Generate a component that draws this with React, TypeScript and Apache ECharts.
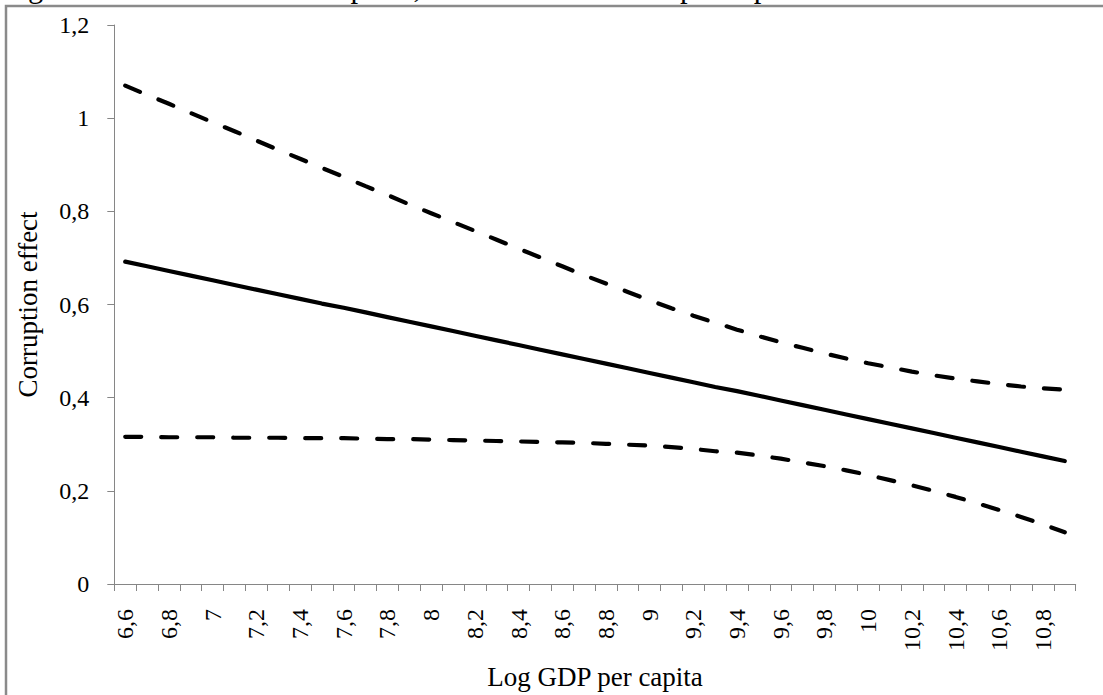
import React, { useEffect, useRef } from "react";
import * as echarts from "echarts";

const gdp = [
  6.6, 6.7, 6.8, 6.9, 7, 7.1, 7.2, 7.3, 7.4, 7.5, 7.6, 7.7, 7.8, 7.9, 8, 8.1, 8.2, 8.3, 8.4, 8.5, 8.6, 8.7,
  8.8, 8.9, 9, 9.1, 9.2, 9.3, 9.4, 9.5, 9.6, 9.7, 9.8, 9.9, 10, 10.1, 10.2, 10.3, 10.4, 10.5, 10.6, 10.7,
  10.8, 10.9,
];

const effect = [
  0.692, 0.682, 0.672, 0.662, 0.652, 0.642, 0.632, 0.622, 0.612, 0.602, 0.593, 0.583, 0.573, 0.563,
  0.553, 0.543, 0.533, 0.523, 0.513, 0.503, 0.493, 0.483, 0.473, 0.463, 0.453, 0.443, 0.433, 0.423,
  0.414, 0.404, 0.394, 0.384, 0.374, 0.364, 0.354, 0.344, 0.334, 0.324, 0.314, 0.304, 0.294, 0.284,
  0.274, 0.264,
];

const upper = [
  1.07, 1.05, 1.031, 1.011, 0.991, 0.972, 0.952, 0.932, 0.913, 0.893, 0.874, 0.854, 0.835, 0.815,
  0.796, 0.777, 0.758, 0.739, 0.72, 0.701, 0.682, 0.663, 0.645, 0.627, 0.609, 0.592, 0.576, 0.561,
  0.546, 0.532, 0.519, 0.507, 0.495, 0.484, 0.474, 0.465, 0.456, 0.448, 0.441, 0.435, 0.429, 0.424,
  0.42, 0.417,
];

const lower = [
  0.316, 0.316, 0.315, 0.315, 0.315, 0.314, 0.314, 0.314, 0.313, 0.313, 0.313, 0.312, 0.311, 0.311,
  0.31, 0.309, 0.308, 0.307, 0.306, 0.305, 0.304, 0.303, 0.301, 0.299, 0.297, 0.294, 0.29, 0.285,
  0.282, 0.276, 0.269, 0.261, 0.253, 0.244, 0.234, 0.223, 0.212, 0.2, 0.187, 0.173, 0.159, 0.144,
  0.128, 0.111,
];

const yTicks = { min: 0, max: 1.2, interval: 0.2 };

const titleText = "Figure 1: The effect of corruption, conditional on GDP per capita";
const xAxisTitle = "Log GDP per capita";
const yAxisTitle = "Corruption effect";

const FONT = "Liberation Serif";
const GRAY = "#868686";

const comma = (v: number | string) => String(v).replace(".", ",");

export default function App() {
  const ref = useRef<HTMLDivElement>(null);

  useEffect(() => {
    if (!ref.current) return;
    const chart = echarts.init(ref.current, undefined, { renderer: "svg" });
    const dashed = { width: 4.2, type: [16, 20] as number[], cap: "round" as const, color: "#000" };
    chart.setOption({
      animation: false,
      backgroundColor: "#fff",
      grid: { left: 114.3, right: 27.3, top: 25, bottom: 106.7, containLabel: false },
      graphic: [
        {
          type: "rect",
          shape: { x: 6, y: 6, width: 1300, height: 900 },
          style: { fill: "none", stroke: "#8a8a8a", lineWidth: 2.5 },
          silent: true,
        },
        {
          type: "text",
          x: 2.5,
          y: -12.8,
          style: {
            text: titleText,
            fontFamily: FONT,
            fontSize: 30.6,
            fill: "#000",
            verticalAlign: "middle",
            align: "left",
          },
          silent: true,
        },
      ],
      xAxis: {
        type: "category",
        data: gdp.map((g) => comma(g)),
        boundaryGap: true,
        name: xAxisTitle,
        nameLocation: "middle",
        nameGap: 79,
        nameTextStyle: { fontFamily: FONT, fontSize: 27, color: "#000" },
        axisLine: { lineStyle: { color: GRAY, width: 1 } },
        axisTick: { show: true, interval: 0, length: 7, lineStyle: { color: GRAY } },
        axisLabel: {
          interval: 1,
          rotate: 90,
          margin: 25,
          fontFamily: FONT,
          fontSize: 24,
          color: "#000",
        },
        splitLine: { show: false },
      },
      yAxis: {
        type: "value",
        min: yTicks.min,
        max: yTicks.max,
        interval: yTicks.interval,
        name: yAxisTitle,
        nameLocation: "middle",
        nameGap: 73,
        nameTextStyle: { fontFamily: FONT, fontSize: 27, color: "#000" },
        axisLine: { show: true, lineStyle: { color: GRAY, width: 1 } },
        axisTick: { show: true, length: 7, lineStyle: { color: GRAY } },
        axisLabel: {
          margin: 25,
          fontFamily: FONT,
          fontSize: 24,
          color: "#000",
          formatter: (v: number) => comma(+v.toFixed(1)),
        },
        splitLine: { show: false },
      },
      series: [
        {
          type: "line",
          name: "Upper bound",
          data: upper,
          symbol: "none",
          lineStyle: dashed,
          itemStyle: { color: "#000" },
        },
        {
          type: "line",
          name: "Corruption effect",
          data: effect,
          symbol: "none",
          lineStyle: { width: 4.2, color: "#000", cap: "round" },
          itemStyle: { color: "#000" },
        },
        {
          type: "line",
          name: "Lower bound",
          data: lower,
          symbol: "none",
          lineStyle: dashed,
          itemStyle: { color: "#000" },
        },
      ],
    });
    return () => chart.dispose();
  }, []);

  return (
    <div
      ref={ref}
      style={{ position: "fixed", left: 0, top: 0, width: 1103, height: 695, background: "#fff" }}
    />
  );
}
